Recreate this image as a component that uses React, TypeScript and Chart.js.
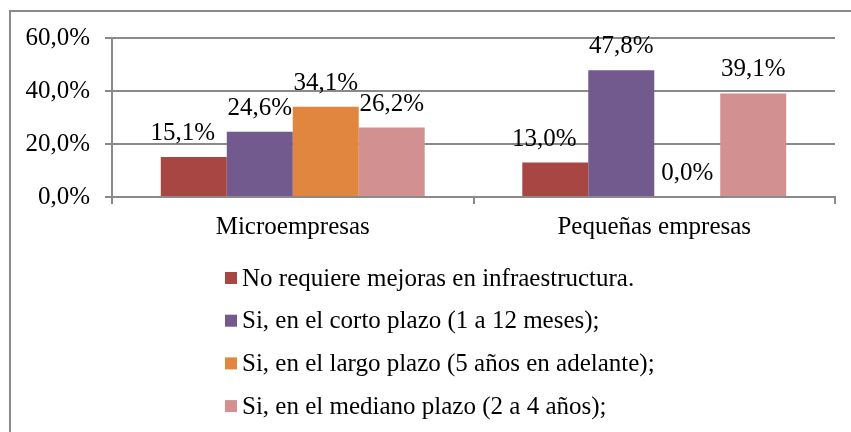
import React, { useEffect, useRef } from "react";
import { Chart, registerables } from "chart.js";

Chart.register(...registerables);

const categories = ["Microempresas", "Pequeñas empresas"];
const seriesLabels = [
  "No requiere mejoras en infraestructura.",
  "Si, en el corto plazo (1 a 12 meses);",
  "Si, en el largo plazo (5 años en adelante);",
  "Si, en el mediano plazo (2 a 4 años);",
];
const noRequiere = [15.1, 13.0];
const cortoPlazo = [24.6, 47.8];
const largoPlazo = [34.1, 0.0];
const medianoPlazo = [26.2, 39.1];
const yTicks = [0, 20, 40, 60];

const colors = ["#A84644", "#725A8F", "#E0863F", "#D39090"];
const FONT = "'Liberation Serif', 'Times New Roman', serif";
const FS = 25;

const fmt = (v: number) => v.toFixed(1).replace(".", ",") + "%";

const framePlugin = {
  id: "frame",
  beforeDraw(chart: any) {
    const ctx = chart.ctx;
    ctx.save();
    ctx.fillStyle = "#ffffff";
    ctx.fillRect(0, 0, chart.width, chart.height);
    ctx.strokeStyle = "#8a8a8a";
    ctx.lineWidth = 2;
    ctx.strokeRect(10, 11, chart.width + 50, chart.height + 50);
    ctx.restore();
  },
};

const labelPlugin = {
  id: "valueLabels",
  afterDatasetsDraw(chart: any) {
    const ctx = chart.ctx;
    ctx.save();
    ctx.font = `${FS}px ${FONT}`;
    ctx.fillStyle = "#000";
    ctx.textAlign = "center";
    ctx.textBaseline = "alphabetic";
    chart.data.datasets.forEach((ds: any, i: number) => {
      const meta = chart.getDatasetMeta(i);
      meta.data.forEach((el: any, j: number) => {
        const off = ds.labelOffsetX || 0;
        ctx.fillText(fmt(ds.data[j]), el.x + off, el.y - 17);
      });
    });
    ctx.restore();
  },
};

const legendPlugin = {
  id: "vLegend",
  afterDraw(chart: any) {
    const ctx = chart.ctx;
    ctx.save();
    ctx.font = `${FS}px ${FONT}`;
    ctx.textBaseline = "middle";
    ctx.textAlign = "left";
    chart.data.datasets.forEach((ds: any, i: number) => {
      const cy = 278 + i * 42.7;
      ctx.fillStyle = ds.backgroundColor;
      ctx.fillRect(225, cy - 6, 12, 12);
      ctx.fillStyle = "#000";
      ctx.fillText(ds.label, 242, cy + 1);
    });
    ctx.restore();
  },
};

export default function App() {
  const ref = useRef<HTMLCanvasElement | null>(null);
  useEffect(() => {
    if (!ref.current) return;
    const data = [noRequiere, cortoPlazo, largoPlazo, medianoPlazo];
    const chart = new Chart(ref.current, {
      type: "bar",
      data: {
        labels: categories,
        datasets: data.map((d, i) => ({
          label: seriesLabels[i],
          data: d,
          backgroundColor: colors[i],
          borderWidth: 0,
          barPercentage: 1,
          categoryPercentage: 0.73,
          labelOffsetX: i === 0 ? -11 : 0,
        })) as any,
      },
      options: {
        responsive: false,
        animation: false,
        layout: { padding: { left: 0, right: 16, top: 38, bottom: 185 } },
        plugins: { legend: { display: false }, tooltip: { enabled: false } },
        scales: {
          x: {
            offset: true,
            grid: {
              offset: true,
              drawOnChartArea: false,
              drawTicks: true,
              tickLength: 7,
              color: "#8a8a8a",
              lineWidth: 2,
            },
            border: { display: true, color: "#8a8a8a", width: 2 },
            ticks: { font: { family: FONT, size: FS }, color: "#000", padding: 8 },
            afterFit: (s: any) => {
              s.height = 50;
            },
          },
          y: {
            min: 0,
            max: 60,
            afterBuildTicks: (s: any) => {
              s.ticks = yTicks.map((v) => ({ value: v }));
            },
            grid: { color: "#8a8a8a", lineWidth: 2, tickLength: 7, drawTicks: true },
            border: { display: true, color: "#8a8a8a", width: 2 },
            ticks: {
              font: { family: FONT, size: FS },
              color: "#000",
              padding: 15,
              callback: (v: any) => fmt(Number(v)),
            },
            afterFit: (s: any) => {
              s.width = 112;
            },
          },
        },
      },
      plugins: [framePlugin, labelPlugin, legendPlugin],
    });
    return () => chart.destroy();
  }, []);
  return (
    <div style={{ position: "absolute", left: 0, top: 0, width: 851, height: 432 }}>
      <canvas ref={ref} width={851} height={432} />
    </div>
  );
}
